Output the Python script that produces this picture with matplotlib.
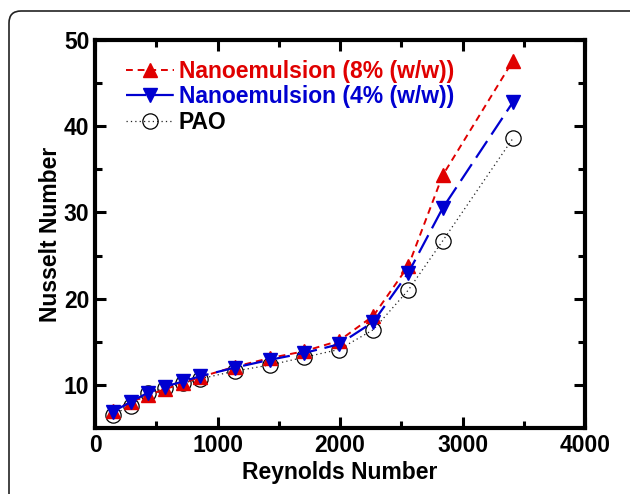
import matplotlib
matplotlib.use("Agg")
import matplotlib.pyplot as plt
from matplotlib.patches import FancyBboxPatch
from matplotlib.ticker import MultipleLocator

plt.rcParams['font.family'] = ['Liberation Sans', 'DejaVu Sans']
plt.rcParams['font.weight'] = 'bold'

# data
reynolds = [145, 290, 432, 572, 718, 858, 1140, 1425, 1707, 1990, 2272, 2558, 2838, 3412]
nu_8pct = [7.0, 8.0, 8.8, 9.5, 10.2, 10.9, 12.1, 13.1, 13.9, 15.1, 18.0, 23.8, 34.3, 47.6]
nu_4pct = [6.9, 8.0, 9.1, 9.8, 10.4, 11.0, 12.0, 12.9, 13.7, 14.7, 17.3, 23.0, 30.5, 42.8]
nu_pao = [6.5, 7.6, 9.1, 9.6, 10.2, 10.7, 11.6, 12.3, 13.2, 14.1, 16.4, 21.0, 26.7, 38.6]

labels = ["Nanoemulsion (8% (w/w))", "Nanoemulsion (4% (w/w))", "PAO"]

fig = plt.figure(figsize=(6.3, 4.94), dpi=100)

# rounded frame around the figure (runs off the right/bottom edges)
frame = FancyBboxPatch((0.09, -0.3), 6.6, 4.83 + 0.3,
                       boxstyle="round,pad=0,rounding_size=0.12",
                       transform=fig.dpi_scale_trans, fill=False,
                       edgecolor="#222222", linewidth=1.2)
fig.patches.append(frame)

ax = fig.add_axes([95 / 630, 66 / 494, 490 / 630, 388 / 494])

red = "#e00000"
blue = "#0000d0"
fs = 16.5

ax.plot(reynolds, nu_8pct, color=red, linestyle=(0, (3.5, 2.5)), linewidth=1.4,
        marker="^", markersize=10.5, markeredgecolor=red, label=labels[0], zorder=3)
ax.plot(reynolds, nu_4pct, color=blue, linestyle=(0, (9, 3.5)), linewidth=1.6,
        marker="v", markersize=10.5, markeredgecolor=blue, label=labels[1], zorder=4)
ax.plot(reynolds, nu_pao, color="#222222", linestyle=(0, (1, 2.5)), linewidth=0.9,
        marker="o", markersize=11, markerfacecolor="none", markeredgecolor="black",
        markeredgewidth=0.9, label=labels[2], zorder=2)

ax.set_xlim(0, 4000)
ax.set_ylim(5, 50)
ax.xaxis.set_major_locator(MultipleLocator(1000))
ax.xaxis.set_minor_locator(MultipleLocator(500))
ax.yaxis.set_major_locator(MultipleLocator(10))
ax.yaxis.set_minor_locator(MultipleLocator(5))
ax.yaxis.set_major_formatter(lambda v, p: "" if v < 10 else f"{v:.0f}")

ax.tick_params(which="both", direction="in", top=True, right=True, width=2.2,
               labelsize=fs, pad=4)
ax.tick_params(which="major", length=8)
ax.tick_params(which="minor", length=5)
for s in ax.spines.values():
    s.set_linewidth(3)

ax.set_xlabel("Reynolds Number", fontsize=fs, fontweight="bold", labelpad=3)
ax.set_ylabel("Nusselt Number", fontsize=fs, fontweight="bold", labelpad=1)

leg = ax.legend(loc="upper left", bbox_to_anchor=(0.035, 0.985), frameon=False,
                fontsize=fs, handlelength=2.1, handletextpad=0.2,
                labelspacing=0.12, borderaxespad=0.2)
for txt, c in zip(leg.get_texts(), [red, blue, "black"]):
    txt.set_color(c)
    txt.set_fontweight("bold")

fig.savefig("out.png", dpi=100)
